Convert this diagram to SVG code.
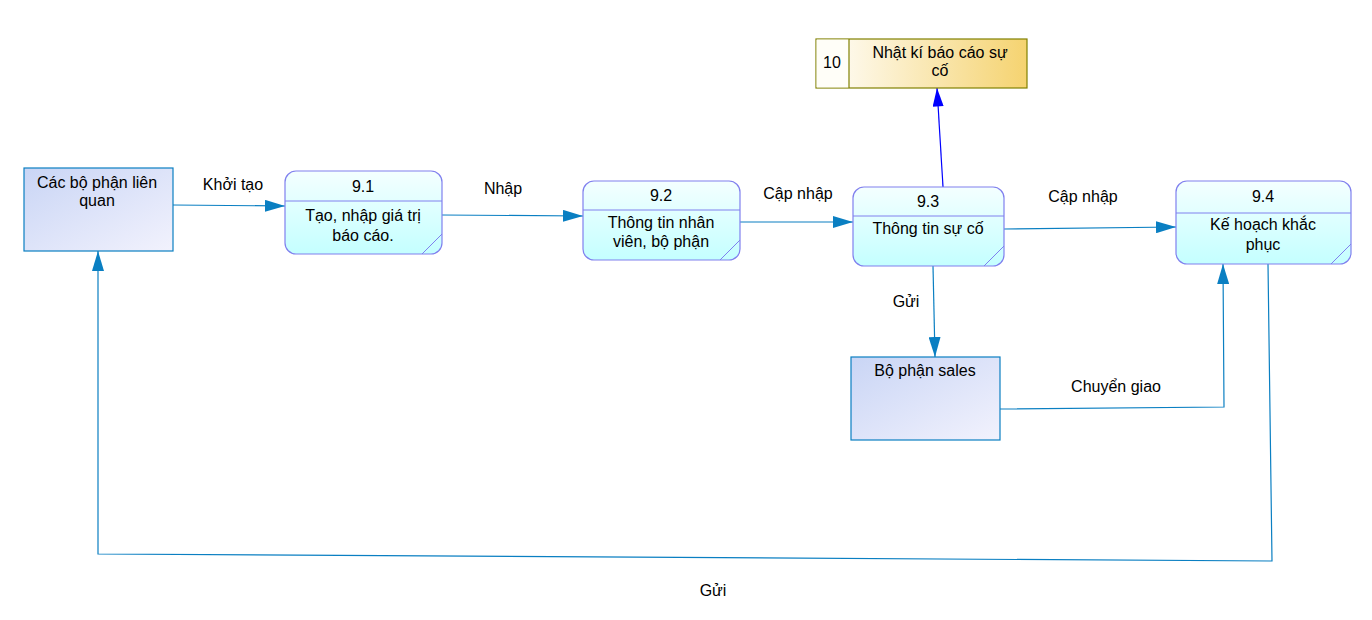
<svg xmlns="http://www.w3.org/2000/svg" width="1372" height="620" viewBox="0 0 1372 620">
<defs>
<linearGradient id="gEnt" x1="0" y1="0" x2="1" y2="1">
<stop offset="0" stop-color="#c9d5f5"/>
<stop offset="1" stop-color="#f2f2fd"/>
</linearGradient>
<linearGradient id="gProc" x1="0" y1="0" x2="0" y2="1">
<stop offset="0" stop-color="#f4ffff"/>
<stop offset="1" stop-color="#c4ffff"/>
</linearGradient>
<linearGradient id="gStore" x1="0" y1="0" x2="1" y2="0">
<stop offset="0" stop-color="#ffffff"/>
<stop offset="1" stop-color="#f5d370"/>
</linearGradient>
<marker id="arr" viewBox="0 0 20 12" refX="20" refY="6" markerWidth="20" markerHeight="12" markerUnits="userSpaceOnUse" orient="auto">
<path d="M0,0 L20,6 L0,12 Z" fill="#0a7fc2"/>
</marker>
<marker id="arrB" viewBox="0 0 20 12" refX="20" refY="6" markerWidth="20" markerHeight="11" markerUnits="userSpaceOnUse" orient="auto">
<path d="M0,0 L20,6 L0,12 Z" fill="#0000ff"/>
</marker>
</defs>
<style>
text{font-family:"Liberation Sans",Arial,sans-serif;font-size:16px;fill:#000;text-anchor:middle}
.ent{fill:url(#gEnt);stroke:#0a7fc2;stroke-width:1.2}
.proc{fill:url(#gProc);stroke:#8080ee;stroke-width:1.2}
.pl{stroke:#8080ee;stroke-width:1;fill:none}
.store{fill:url(#gStore);stroke:#808000;stroke-width:1.2}
.con{fill:none;stroke:#0a7fc2;stroke-width:1.2}
.conB{fill:none;stroke:#0000ff;stroke-width:1.2}
</style>
<rect width="1372" height="620" fill="#ffffff"/>

<g id="connectors">
<line class="con" x1="173" y1="205" x2="285" y2="206" marker-end="url(#arr)"/>
<line class="con" x1="442" y1="215" x2="583" y2="216" marker-end="url(#arr)"/>
<line class="con" x1="740" y1="222" x2="853" y2="222" marker-end="url(#arr)"/>
<line class="con" x1="1004" y1="229" x2="1176" y2="227" marker-end="url(#arr)"/>
<line class="conB" x1="943" y1="187" x2="937" y2="88" marker-end="url(#arrB)"/>
<line class="con" x1="933" y1="266" x2="935" y2="357" marker-end="url(#arr)"/>
<polyline class="con" points="1000,409 1224,407 1223,264" marker-end="url(#arr)"/>
<polyline class="con" points="1268,264 1272,561 98,554 98,251" marker-end="url(#arr)"/>
<text x="233" y="190">Khởi tạo</text>
<text x="503" y="194">Nhập</text>
<text x="798" y="199">Cập nhập</text>
<text x="1083" y="202">Cập nhập</text>
<text x="906" y="307">Gửi</text>
<text x="1116" y="392">Chuyển giao</text>
<text x="713" y="596">Gửi</text>
</g>

<g id="ent-cac-bo-phan">
<rect class="ent" x="24" y="168" width="149" height="83"/>
<text x="97" y="188">Các bộ phận liên</text>
<text x="97" y="206">quan</text>
</g>

<g id="p91">
<rect class="proc" x="285" y="171" width="157" height="83" rx="11"/>
<line class="pl" x1="285" y1="201" x2="442" y2="201"/>
<line class="pl" x1="422" y1="254" x2="442" y2="234"/>
<text x="363" y="192">9.1</text>
<text x="363" y="221">Tạo, nhập giá trị</text>
<text x="363" y="241">báo cáo.</text>
</g>

<g id="p92">
<rect class="proc" x="583" y="181" width="157" height="79" rx="11"/>
<line class="pl" x1="583" y1="210" x2="740" y2="210"/>
<line class="pl" x1="720" y1="260" x2="740" y2="240"/>
<text x="661" y="201">9.2</text>
<text x="661" y="228">Thông tin nhân</text>
<text x="661" y="247">viên, bộ phận</text>
</g>

<g id="p93">
<rect class="proc" x="853" y="187" width="151" height="79" rx="11"/>
<line class="pl" x1="853" y1="216" x2="1004" y2="216"/>
<line class="pl" x1="984" y1="266" x2="1004" y2="246"/>
<text x="928" y="207">9.3</text>
<text x="928" y="234">Thông tin sự cố</text>
</g>

<g id="p94">
<rect class="proc" x="1176" y="181" width="175" height="83" rx="11"/>
<line class="pl" x1="1176" y1="213" x2="1351" y2="213"/>
<line class="pl" x1="1331" y1="264" x2="1351" y2="244"/>
<text x="1263" y="202">9.4</text>
<text x="1263" y="230">Kế hoạch khắc</text>
<text x="1263" y="250">phục</text>
</g>

<g id="store10">
<rect class="store" x="816" y="39" width="211" height="49"/>
<rect x="816.6" y="39.6" width="32.4" height="47.8" fill="#fffef8"/>
<line x1="849" y1="39" x2="849" y2="88" stroke="#808000" stroke-width="1.2"/>
<text x="832" y="68">10</text>
<text x="940" y="58">Nhật kí báo cáo sự</text>
<text x="940" y="76">cố</text>
</g>

<g id="ent-sales">
<rect class="ent" x="851" y="357" width="149" height="83"/>
<text x="925" y="376">Bộ phận sales</text>
</g>
</svg>
